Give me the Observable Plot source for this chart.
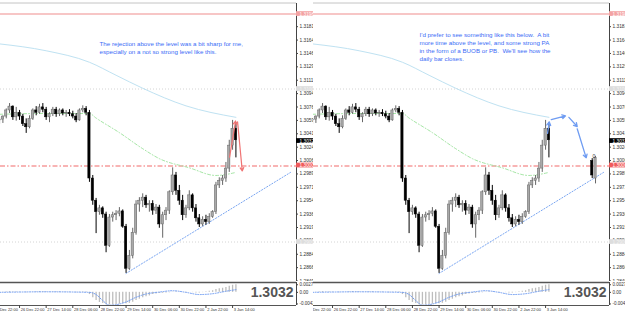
<!DOCTYPE html>
<html><head><meta charset="utf-8">
<script src="https://cdn.jsdelivr.net/npm/d3@7"></script>
<script src="https://cdn.jsdelivr.net/npm/@observablehq/plot@0.6"></script>
<style>
html,body{margin:0;padding:0;background:#fff;width:625px;height:314px;overflow:hidden;font-family:"Liberation Sans",Arial,sans-serif;}
.panel{position:absolute;top:0;width:313px;height:314px;overflow:hidden;background:#fff;}
.panel svg{display:block;}
</style></head><body>
<div id="left" class="panel" style="left:0"></div>
<div id="right" class="panel" style="left:313px"></div>
<script>
// ---- 2-hour candles (bar index 2..73) ----
const barIndex = d3.range(2, 74);
const barOpen = [1.3059,1.3060,1.3064,1.3072,1.3077,1.3063,1.3069,1.3064,1.3054,1.3050,
 1.3061,1.3072,1.3069,1.3076,1.3073,1.3063,1.3067,1.3073,1.3067,1.3072,
 1.3068,1.3069,1.3067,1.3064,1.3059,1.3072,1.3074,1.3069,1.2983,1.2954,
 1.2939,1.2944,1.2936,1.2895,1.2932,1.2935,1.2937,1.2940,1.2920,1.2865,
 1.2882,1.2912,1.2949,1.2954,1.2958,1.2948,1.2950,1.2941,1.2945,1.2923,
 1.2935,1.2941,1.2965,1.2987,1.2967,1.2954,1.2935,1.2944,1.2961,1.2944,
 1.2931,1.2923,1.2929,1.2926,1.2933,1.2939,1.2974,1.2980,1.2983,1.2996,
 1.3026,1.3048];
const barHigh = [1.3063,1.3065,1.3074,1.3081,1.3078,1.3076,1.3072,1.3067,1.3061,1.3065,
 1.3074,1.3077,1.3080,1.3081,1.3076,1.3069,1.3076,1.3076,1.3074,1.3074,
 1.3072,1.3073,1.3071,1.3068,1.3074,1.3078,1.3077,1.3072,1.2987,1.2957,
 1.2948,1.2946,1.2939,1.2936,1.2939,1.2941,1.2945,1.2942,1.2923,1.2889,
 1.2918,1.2954,1.2958,1.2963,1.2961,1.2954,1.2954,1.2949,1.2948,1.2939,
 1.2945,1.2967,1.2997,1.2991,1.2974,1.2961,1.2948,1.2967,1.2963,1.2949,
 1.2936,1.2933,1.2935,1.2937,1.2941,1.2978,1.2984,1.2987,1.3004,1.3033,
 1.3059,1.3056];
const barLow = [1.3054,1.3055,1.3061,1.3068,1.3059,1.3058,1.3059,1.3051,1.3042,1.3048,
 1.3059,1.3065,1.3067,1.3069,1.3059,1.3056,1.3064,1.3063,1.3064,1.3065,
 1.3063,1.3064,1.3061,1.3056,1.3058,1.3069,1.3065,1.2978,1.2948,1.2911,
 1.2935,1.2931,1.2886,1.2893,1.2926,1.2928,1.2933,1.2918,1.2859,1.2863,
 1.2878,1.2909,1.2939,1.2945,1.2944,1.2939,1.2935,1.2936,1.2918,1.2905,
 1.2928,1.2936,1.2961,1.2961,1.2948,1.2928,1.2931,1.2941,1.2939,1.2926,
 1.2919,1.2920,1.2922,1.2923,1.2931,1.2936,1.2970,1.2974,1.2978,1.2991,
 1.3020,1.3010];
const barClose = [1.3060,1.3064,1.3072,1.3077,1.3063,1.3069,1.3064,1.3054,1.3050,1.3061,
 1.3072,1.3069,1.3076,1.3073,1.3063,1.3067,1.3073,1.3067,1.3072,1.3068,
 1.3069,1.3067,1.3064,1.3059,1.3072,1.3074,1.3069,1.2983,1.2954,1.2939,
 1.2944,1.2936,1.2895,1.2932,1.2935,1.2937,1.2940,1.2920,1.2865,1.2882,
 1.2912,1.2949,1.2954,1.2958,1.2948,1.2950,1.2941,1.2945,1.2923,1.2935,
 1.2941,1.2965,1.2987,1.2967,1.2954,1.2935,1.2944,1.2961,1.2944,1.2931,
 1.2923,1.2929,1.2926,1.2933,1.2939,1.2974,1.2980,1.2983,1.2996,1.3026,
 1.3048,1.3033];

// projected bars drawn in the right-hand chart
const projIndex = [86, 87];
const projOpen = [1.3006, 1.2983];
const projHigh = [1.3009, 1.3012];
const projLow = [1.2983, 1.2976];
const projClose = [1.2987, 1.3010];

// moving averages
const slowMaIndex = [2, 16, 29, 37, 45, 58, 73];
const slowMaValue = [1.3159, 1.3150, 1.3135, 1.3118, 1.3101, 1.3078, 1.3063];
const fastMaIndex = [2, 16, 29, 31, 38, 45, 50, 59, 67, 73];
const fastMaValue = [1.3067, 1.3068, 1.3068, 1.3062, 1.3043, 1.3022, 1.3009, 1.2997, 1.2987, 1.2991];

// trend line
const trendIndex = [40, 89.4];
const trendValue = [1.2859, 1.2991];

// horizontal levels and their price labels
const levelValue = [1.3198, 1.3100, 1.3032, 1.3000, 1.2900];
const levelLabel = ["1.31980", "1.31000", "1.30320", "1.30000", "1.29000"];

// arrows
const redFromIndex = [71.1, 73.5], redFromPrice = [1.3011, 1.3057];
const redToIndex = [72.9, 74.9], redToPrice = [1.3058, 1.2993];
const blueFromIndex = [72.6, 73.7, 79.0, 81.5], blueFromPrice = [1.3042, 1.3060, 1.3063, 1.3048];
const blueToIndex = [73.1, 78.0, 81.5, 84.2], blueToPrice = [1.3057, 1.3065, 1.3051, 1.3010];

// MACD-like indicator
const histValue = [0.0001,0.0001,0.0002,0.0003,0.0002,0.0002,0.0001,0.0000,-0.0001,0.0000,
 0.0001,0.0002,0.0003,0.0003,0.0002,0.0001,0.0002,0.0002,0.0002,0.0001,
 0.0001,0.0001,0.0000,-0.0001,0.0001,0.0002,0.0002,
 -0.0008,-0.0020,-0.0030,-0.0037,-0.0041,-0.0045,-0.0046,-0.0046,-0.0045,-0.0043,
 -0.0041,-0.0042,-0.0040,-0.0036,-0.0030,-0.0025,-0.0020,-0.0016,-0.0013,
 -0.0008,-0.0006,-0.0004,-0.0003,-0.0002,-0.0001,0.0001,0.0002,0.0001,0.0000,
 -0.0001,0.0000,-0.0001,-0.0002,-0.0002,-0.0001,
 0.0002,0.0004,0.0006,0.0010,0.0013,0.0015,0.0018,0.0022,0.0026,0.0028];
const signalIndex = [2, 16, 29, 31, 33, 35, 37, 40, 43, 46, 50, 54, 58, 62, 66, 70, 73];
const signalValue = [0.0000, 0.0002, 0.0000, -0.0008, -0.0030, -0.0047, -0.0045, -0.0035, -0.0018, -0.0006, 0.0001, 0.0006, 0.0000, -0.0008, -0.0005, 0.0004, 0.0010];
const indTickValue = [0.00278, 0, -0.00423];
const indTickLabel = ["0.00278", "0.00", "-0.00423"];

// axes
const yTickLabel = ["1.31815","1.31640","1.31465","1.31290","1.31115","1.30940","1.30765","1.30590","1.30415","1.30240",
 "1.30065","1.29890","1.29715","1.29540","1.29365","1.29190","1.29015","1.28840","1.28665","1.28490"];
const timeTickIndex = [0, 8, 16, 24, 32, 40, 48, 56, 64, 72];
const timeTickLabel = ["25 Dec 22:00","26 Dec 22:00","27 Dec 14:00","28 Dec 06:00","28 Dec 22:00","29 Dec 14:00","30 Dec 06:00","30 Dec 22:00","2 Jan 22:00","3 Jan 14:00"];
const currentPrice = "1.3032";

const leftNote = ["The rejection above the level was a bit sharp for me,", "especially on a not so strong level like this."];
const rightNote = ["I'd prefer to see something like this below.\u00a0 A bit", "more time above the level, and some strong PA", "in the form of a BUOB or PB.\u00a0 We'll see how the", "daily bar closes."];

// ---- build tables ----
const bars = barIndex.map((i, k) => ({i, o: barOpen[k], h: barHigh[k], l: barLow[k], c: barClose[k]}));
const proj = projIndex.map((i, k) => ({i, o: projOpen[k], h: projHigh[k], l: projLow[k], c: projClose[k]}));
const slowMa = slowMaIndex.map((i, k) => ({i, v: slowMaValue[k]}));
const fastMa = fastMaIndex.map((i, k) => ({i, v: fastMaValue[k]}));
const trend = trendIndex.map((i, k) => ({i, v: trendValue[k]}));
const levelColors = [["#f3a3a3", "#fff"], ["#dddddd", "#f4f4f4"], ["#000", "#fff"], ["#f05a5a", "#fff"], ["#dddddd", "#f4f4f4"]];
const levels = levelValue.map((v, k) => ({v, label: levelLabel[k], bg: levelColors[k][0], fg: levelColors[k][1]}));
const redArrows = redFromIndex.map((x, k) => ({x1: x, y1: redFromPrice[k], x2: redToIndex[k], y2: redToPrice[k]}));
const blueArrows = blueFromIndex.map((x, k) => ({x1: x, y1: blueFromPrice[k], x2: blueToIndex[k], y2: blueToPrice[k]}));
const hist = barIndex.map((i, k) => ({i, v: histValue[k]}));
const signal = signalIndex.map((i, k) => ({i, v: signalValue[k]}));
const yTicks = yTickLabel.map(s => ({v: +s, label: s}));
const indTicks = indTickValue.map((v, k) => ({v, label: indTickLabel[k]}));
const timeTicks = timeTickIndex.map((i, k) => ({i, label: timeTickLabel[k]}));

const xDomain = [2.28, 91.2];
const yDomain = [1.28484, 1.32118];
const indDomain = [-0.0048, 0.0036];
const FONT = "'Liberation Sans', Arial, sans-serif";

function candleMarks(data) {
  const up = d => d.c >= d.o;
  return [
    Plot.ruleX(data, {x: "i", y1: "l", y2: "h", stroke: d => up(d) ? "#666" : "#000", strokeWidth: 1}),
    Plot.rect(data, {x1: d => d.i - 0.34, x2: d => d.i + 0.34, y1: "o", y2: d => (Math.abs(d.c - d.o) < 0.00005 ? d.o + 0.00007 : d.c),
      fill: d => up(d) ? "#a9a9a9" : "#000", stroke: d => up(d) ? "#666" : "#000", strokeWidth: 0.5})
  ];
}

function noteMarks(lines, x0, y0) {
  return lines.map((t, k) => Plot.text([t], {frameAnchor: "top-left", dx: x0, dy: y0 + k * 8, text: d => d,
    textAnchor: "start", fontSize: 6.2, fill: "#3b6cf6"}));
}

function panel(el, isRight) {
  const xr = xDomain[1];
  const main = Plot.plot({
    width: 313, height: 281, marginLeft: 0, marginRight: 17, marginTop: 3, marginBottom: 0,
    x: {domain: xDomain, axis: null},
    y: {domain: yDomain, axis: null},
    style: {background: "transparent", fontFamily: FONT},
    marks: [
      Plot.ruleY([levelValue[0]], {stroke: "#f5b3b3", strokeWidth: 1.6}),
      Plot.ruleY([levelValue[1], levelValue[4]], {stroke: "#d4d4d4", strokeDasharray: "1,2"}),
      Plot.ruleY([levelValue[3]], {stroke: "#f26b6b", strokeWidth: 1.1, strokeDasharray: "5,2,1.5,2", dy: 0.5}),
      Plot.line(slowMa, {x: "i", y: "v", stroke: "#bfe2f2", strokeWidth: 1, curve: "monotone-x"}),
      Plot.line(fastMa, {x: "i", y: "v", stroke: "#a6e6a6", strokeWidth: 1, strokeDasharray: "3,2,1,2", curve: "monotone-x"}),
      Plot.line(trend, {x: "i", y: "v", stroke: "#7aa6f2", strokeWidth: 1, strokeDasharray: "1.2,1.8"}),
      ...candleMarks(bars),
      ...(isRight ? candleMarks(proj) : []),
      ...(isRight
        ? [Plot.arrow(blueArrows, {x1: "x1", y1: "y1", x2: "x2", y2: "y2", stroke: "#6f9cf2", strokeWidth: 1.3, headLength: 4.5}),
           Plot.text(["0"], {x: 86.5, y: 1.3012, text: d => d, fontSize: 5, fill: "#333"})]
        : [Plot.arrow(redArrows, {x1: "x1", y1: "y1", x2: "x2", y2: "y2", stroke: "#f07474", strokeWidth: 1.2, headLength: 4.5})]),
      ...noteMarks(isRight ? rightNote : leftNote, isRight ? 106 : 99, isRight ? 29 : 38.5),
      // frame
      Plot.ruleY([yDomain[1]], {stroke: "#c4c4c4", dy: -0.5}),
      Plot.ruleX([xr], {stroke: "#444", strokeWidth: 1}),
      // y axis
      Plot.ruleY(yTicks, {y: "v", x1: xr, x2: xr, insetRight: -2, stroke: "#444"}),
      Plot.text(yTicks, {x: xr, y: "v", text: "label", dx: 3, textAnchor: "start", fontSize: 4.8, fill: "#333"}),
      Plot.rect(levels, {x1: xr, x2: xr, insetRight: -17, y1: d => d.v - 0.00031, y2: d => d.v + 0.00031, fill: "bg"}),
      Plot.text(levels, {x: xr, y: "v", text: "label", dx: 3, textAnchor: "start", fontSize: 4.8, fill: "fg"})
    ]
  });
  el.append(main);

  const ind = Plot.plot({
    width: 313, height: 33, marginLeft: 0, marginRight: 17, marginTop: 1, marginBottom: 9,
    x: {domain: xDomain, axis: null},
    y: {domain: indDomain, axis: null},
    style: {background: "transparent", fontFamily: FONT},
    marks: [
      Plot.ruleX(hist, {x: "i", y1: 0, y2: "v", stroke: "#bdbdbd", strokeWidth: 1.3}),
      Plot.line(signal, {x: "i", y: "v", stroke: "#6f9cf2", strokeWidth: 1, strokeDasharray: "1,1.5", curve: "monotone-x"}),
      Plot.ruleY([indDomain[1]], {stroke: "#555", strokeWidth: 1.6}),
      Plot.ruleY([indDomain[0]], {stroke: "#555", strokeWidth: 1}),
      Plot.ruleX([xr], {stroke: "#444"}),
      Plot.text([currentPrice], {frameAnchor: "right", dx: -3, dy: -1, text: d => d, textAnchor: "end", fontSize: 14, fontWeight: "bold", fill: "#555"}),
      Plot.ruleY(indTicks, {y: "v", x1: xr, x2: xr, insetRight: -2, stroke: "#444"}),
      Plot.text(indTicks, {x: xr, y: "v", text: "label", dx: 3, textAnchor: "start", fontSize: 4.5, fill: "#333"}),
      Plot.ruleX(timeTicks, {x: "i", y1: indDomain[0], y2: indDomain[0], insetBottom: -3, stroke: "#444"}),
      Plot.text(timeTicks, {x: "i", y: indDomain[0], text: "label", dx: 1.2, dy: 4.5, textAnchor: "start", fontSize: 4, fill: "#333"})
    ]
  });
  el.append(ind);
}

panel(document.getElementById("left"), false);
panel(document.getElementById("right"), true);
</script>
</body></html>
